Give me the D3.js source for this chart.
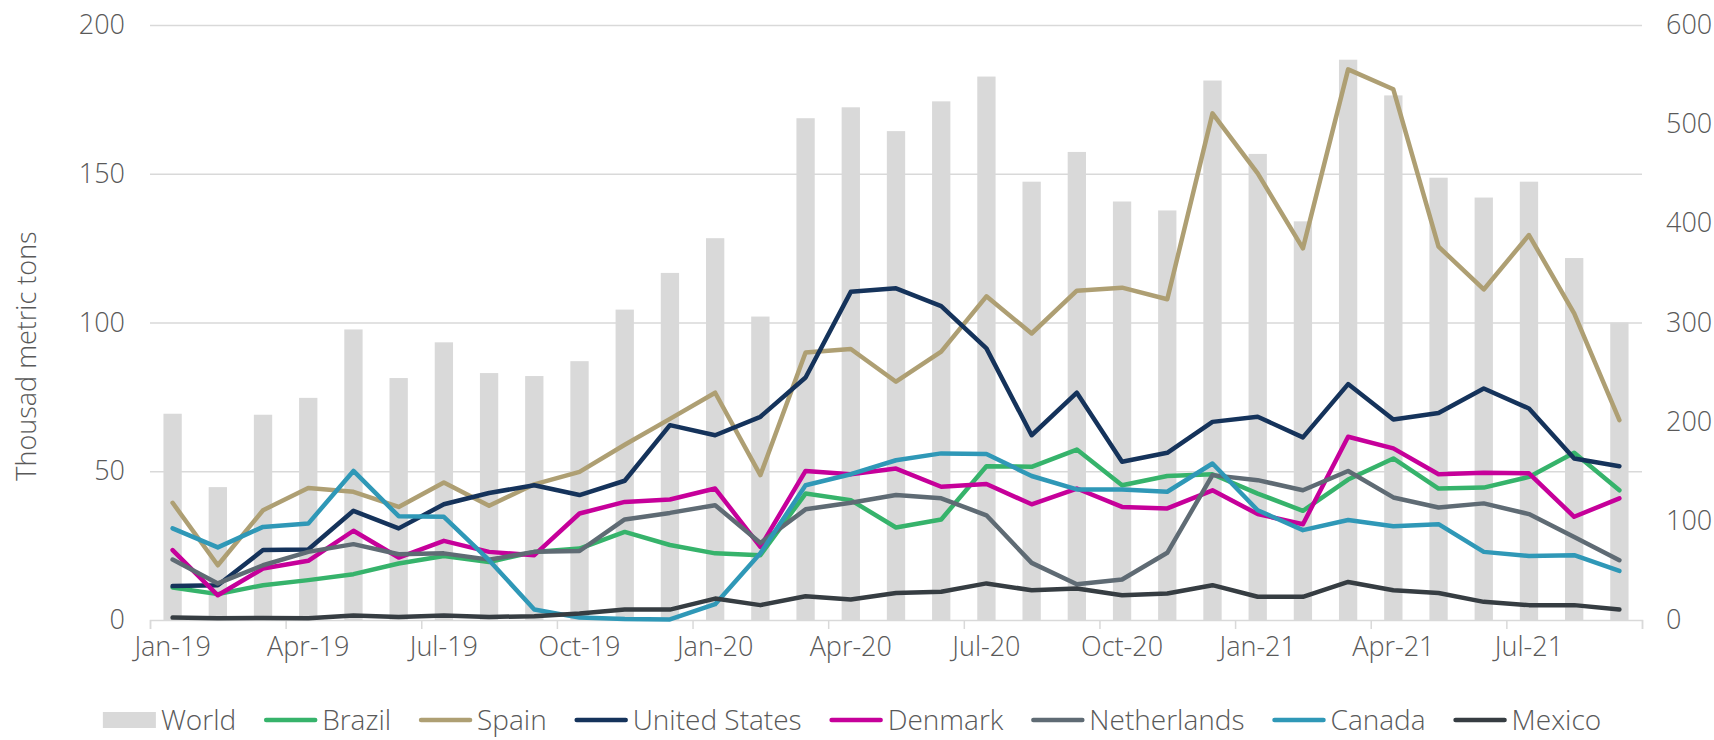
<!DOCTYPE html>
<html>
<head>
<meta charset="utf-8">
<script src="https://cdn.jsdelivr.net/npm/d3@7"></script>
<style>
  body { margin: 0; background: #fff; }
  svg text { font-family: "Open Sans", "Noto Sans", sans-serif; font-weight: 300; fill: #595959; }
</style>
</head>
<body>
<div id="grafico"></div>
<script>
// Datos (miles de toneladas, mensual)
const meses = ["Jan-19","Feb-19","Mar-19","Apr-19","May-19","Jun-19","Jul-19","Aug-19","Sep-19","Oct-19","Nov-19","Dec-19",
  "Jan-20","Feb-20","Mar-20","Apr-20","May-20","Jun-20","Jul-20","Aug-20","Sep-20","Oct-20","Nov-20","Dec-20",
  "Jan-21","Feb-21","Mar-21","Apr-21","May-21","Jun-21","Jul-21","Aug-21","Sep-21"];

// eje derecho
const world = [208,134,207,224,293,244,280,249,246,261,313,350,385,306,506,517,493,523,548,442,472,422,413,544,470,402,565,529,446,426,442,365,300];

// eje izquierdo
const brazil = [10.9,8.7,11.7,13.4,15.4,19.0,21.5,19.5,22.9,24.0,29.6,25.2,22.4,21.8,42.5,40.3,31.1,33.8,51.7,51.5,57.3,45.3,48.4,49.0,42.5,36.7,47.2,54.3,44.2,44.5,48.1,56.2,43.6];
const spain = [39.4,18.4,36.9,44.4,43.1,38.0,46.2,38.4,45.6,49.8,58.9,67.6,76.4,48.7,89.9,91.1,80.1,90.2,108.8,96.3,110.7,111.7,107.8,170.3,150.1,124.9,185.1,178.4,125.5,111.1,129.4,103.1,67.2];
const unitedStates = [11.4,11.7,23.5,23.7,36.7,30.8,38.9,42.7,45.3,42.0,46.8,65.5,62.1,68.3,81.5,110.3,111.5,105.5,91.3,62.1,76.4,53.2,56.2,66.6,68.3,61.4,79.3,67.4,69.6,77.8,71.1,54.3,51.7];
const denmark = [23.5,8.3,17.3,19.9,30.0,21.0,26.6,22.9,21.8,35.8,39.7,40.5,44.2,24.6,50.1,49.0,50.9,44.8,45.7,38.9,44.2,38.0,37.5,43.6,35.6,32.2,61.6,57.7,49.0,49.5,49.3,34.7,40.9];
const netherlands = [20.3,12.3,18.4,22.9,25.5,22.1,22.4,20.3,22.9,23.2,33.8,36.0,38.6,25.9,37.2,39.4,42.0,40.9,35.2,19.2,12.0,13.6,22.6,48.7,47.0,43.6,50.1,41.2,37.8,39.2,35.6,27.9,20.1];
const canada = [30.8,24.4,31.3,32.4,50.1,34.9,34.7,20.1,3.5,0.8,0.3,0.2,5.3,22.4,45.3,49.0,53.7,56.0,55.8,48.4,43.9,43.9,43.1,52.6,36.9,30.2,33.6,31.5,32.2,22.9,21.5,21.8,16.5];
const mexico = [0.8,0.6,0.7,0.6,1.5,1.0,1.5,1.0,1.3,2.2,3.5,3.5,7.2,5.0,8.0,6.9,9.1,9.5,12.3,10.0,10.6,8.3,8.9,11.7,7.8,7.8,12.8,10.0,9.1,6.1,5.0,5.0,3.5];

const ticksIzq = [0,50,100,150,200];
const ticksDer = [0,100,200,300,400,500,600];

const series = [
  { nombre: "Brazil", valores: brazil, color: "#36b36b" },
  { nombre: "Spain", valores: spain, color: "#ae9f73" },
  { nombre: "United States", valores: unitedStates, color: "#15335b" },
  { nombre: "Denmark", valores: denmark, color: "#c6009a" },
  { nombre: "Netherlands", valores: netherlands, color: "#5f6b74" },
  { nombre: "Canada", valores: canada, color: "#2f98b7" },
  { nombre: "Mexico", valores: mexico, color: "#363d42" }
];

const WIDTH = 1714;
const HEIGHT = 740;
const FUENTE = "27px";
const FUENTE_LEYENDA = "28px";
const margen = { left: 150, right: 72, top: 25, bottom: 120 };
const x0 = margen.left, x1 = WIDTH - margen.right;
const y0 = HEIGHT - margen.bottom, y1 = margen.top;

const svg = d3.select("#grafico").append("svg")
  .attr("width", WIDTH)
  .attr("height", HEIGHT);

// escalas
const x = d3.scaleBand().domain(meses).range([x0, x1]).paddingInner(0.595).paddingOuter(0.2975);
const xIdx = d3.scaleLinear().domain([0, meses.length]).range([x0, x1]);
const yIzq = d3.scaleLinear().domain([0, 200]).range([y0, y1]);
const yDer = d3.scaleLinear().domain([0, 600]).range([y0, y1]);
const centro = m => x(m) + x.bandwidth() / 2;

// rejilla
svg.append("g")
  .attr("transform", `translate(${x0},0)`)
  .call(d3.axisLeft(yIzq).tickValues(ticksIzq.slice(1)).tickSize(-(x1 - x0)).tickFormat(""))
  .call(g => g.select(".domain").remove())
  .selectAll("line").attr("stroke", "#d9d9d9").attr("stroke-width", 1.5);

// barras World
svg.append("g").selectAll("rect")
  .data(world)
  .enter()
  .append("rect")
  .attr("x", (d, i) => x(meses[i]))
  .attr("width", x.bandwidth())
  .attr("y", d => yDer(d))
  .attr("height", d => yDer(0) - yDer(d))
  .attr("fill", "#d9d9d9");

// eje x: marcas cada trimestre
svg.append("g")
  .attr("transform", `translate(0,${y0})`)
  .call(d3.axisBottom(xIdx).tickValues(d3.range(0, meses.length + 1, 3)).tickSize(9).tickFormat(""))
  .call(g => g.select(".domain").attr("stroke", "#d9d9d9").attr("stroke-width", 1.5))
  .selectAll(".tick line").attr("stroke", "#d9d9d9").attr("stroke-width", 1.5);

svg.append("g")
  .attr("transform", `translate(0,${y0})`)
  .call(d3.axisBottom(x).tickValues(meses.filter((m, i) => i % 3 == 0)).tickSize(0).tickPadding(17))
  .call(g => g.select(".domain").remove())
  .selectAll("text").style("font-size", FUENTE).attr("fill", "#595959");

// ejes y
svg.append("g")
  .attr("transform", `translate(${x0 - 25},0)`)
  .call(d3.axisLeft(yIzq).tickValues(ticksIzq).tickSize(0).tickPadding(0))
  .call(g => g.select(".domain").remove())
  .selectAll("text").style("font-size", FUENTE).attr("fill", "#595959");

svg.append("g")
  .attr("transform", `translate(${x1 + 24},0)`)
  .call(d3.axisRight(yDer).tickValues(ticksDer).tickSize(0).tickPadding(0))
  .call(g => g.select(".domain").remove())
  .selectAll("text").style("font-size", FUENTE).attr("fill", "#595959");

svg.append("text")
  .attr("transform", "translate(36,356) rotate(-90)")
  .attr("text-anchor", "middle")
  .style("font-size", FUENTE)
  .text("Thousad metric tons");

// lineas
const linea = d3.line()
  .x((d, i) => centro(meses[i]))
  .y(d => yIzq(d));

svg.append("g").selectAll("path")
  .data(series)
  .enter()
  .append("path")
  .attr("d", d => linea(d.valores))
  .attr("fill", "none")
  .attr("stroke", d => d.color)
  .attr("stroke-width", 4.5)
  .attr("stroke-linejoin", "round")
  .attr("stroke-linecap", "round");

// leyenda
const itemsLeyenda = [{ nombre: "World", color: "#d9d9d9", barra: true }].concat(series);
const leyenda = svg.append("g");
let posX = 0;
itemsLeyenda.forEach(function (d) {
  const g = leyenda.append("g").attr("transform", `translate(${posX},0)`);
  if (d.barra) {
    g.append("rect").attr("x", 0).attr("y", -8).attr("width", 53).attr("height", 16).attr("fill", d.color);
  } else {
    g.append("line").attr("x1", 2).attr("x2", 51).attr("y1", 0).attr("y2", 0)
      .attr("stroke", d.color).attr("stroke-width", 4.5).attr("stroke-linecap", "round");
  }
  const t = g.append("text").attr("x", 58).attr("dy", "0.35em").style("font-size", FUENTE_LEYENDA).text(d.nombre);
  posX += 58 + t.node().getComputedTextLength() + 28;
});
const anchoLeyenda = posX - 28;
leyenda.attr("transform", `translate(${852 - anchoLeyenda / 2},720)`);
</script>
</body>
</html>
